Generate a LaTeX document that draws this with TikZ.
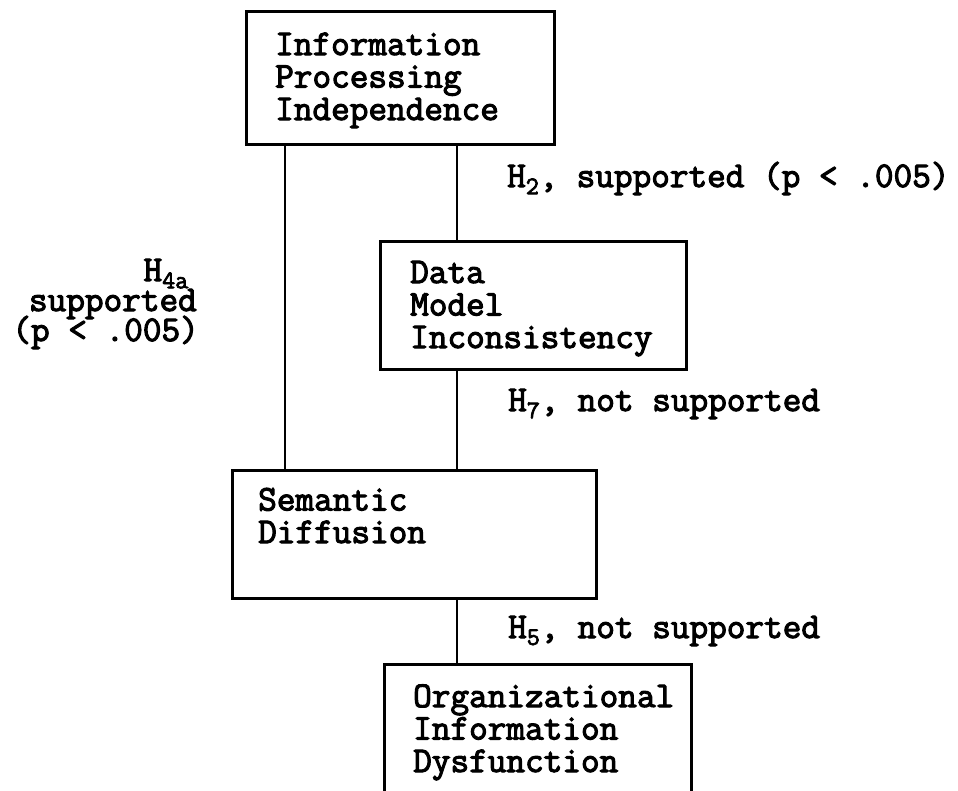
\documentclass[tikz,border=0pt]{standalone}
\usepackage{fontspec}
% heavy typewriter face
\newfontfamily\typew[FakeBold=3]{Latin Modern Mono}
\begin{document}
\begin{tikzpicture}[x=1pt,y=-1pt,
  box/.style={draw, line width=3pt, minimum width=0pt, minimum height=0pt, inner sep=0pt},
  link/.style={line width=2.8pt},
  txt/.style={font=\fontsize{36.2}{32.5}\selectfont\typew, align=left, inner sep=0pt, anchor=base west},
  lbl/.style={font=\fontsize{36.2}{29}\selectfont\typew, inner sep=0pt}
]
\useasboundingbox (0,0) rectangle (958,790);

% boxes
\node[box, minimum width=308pt, minimum height=133pt, anchor=north west] (ipi) at (245,10) {};
\node[box, minimum width=306pt, minimum height=128pt, anchor=north west] (dmi) at (379,240) {};
\node[box, minimum width=364pt, minimum height=128pt, anchor=north west] (sd) at (231,469) {};
\node[box, minimum width=307pt, minimum height=140pt, anchor=north west] (oid) at (383,663) {};

% box texts (anchored at the baseline of the last line)
\node[txt] (t1) at (275,120) {Information\\Processing\\Independence};
\node[txt] (t2) at (410,348) {Data\\Model\\Inconsistency};
\node[txt] (t3) at (258,543) {Semantic\\Diffusion};
\node[txt] (t4) at (413,772) {Organizational\\Information\\Dysfunction};

% connector columns
\coordinate (cl) at (285,0);
\coordinate (cr) at (457,0);
\draw[link] (ipi.south -| cl) -- (sd.north -| cl);
\draw[link] (ipi.south -| cr) -- (dmi.north -| cr);
\draw[link] (dmi.south -| cr) -- (sd.north -| cr);
\draw[link] (sd.south -| cr) -- (oid.north -| cr);

% hypothesis labels
\node[lbl, anchor=base west] (h2) at (507,187) {H\textsubscript{2}, supported (p < .005)};
\node[lbl, anchor=base west] (h7) at (508,411) {H\textsubscript{7}, not supported};
\node[lbl, anchor=base west] (h5) at (508,638) {H\textsubscript{5}, not supported};
\node[lbl, anchor=base east] (h4a) at (189,281) {H\textsubscript{4a}};
\node[lbl, anchor=base east] (h4b) at (197,311) {supported};
\node[lbl, anchor=base east] (h4c) at (199,341) {(p < .005)};
\end{tikzpicture}
\end{document}
